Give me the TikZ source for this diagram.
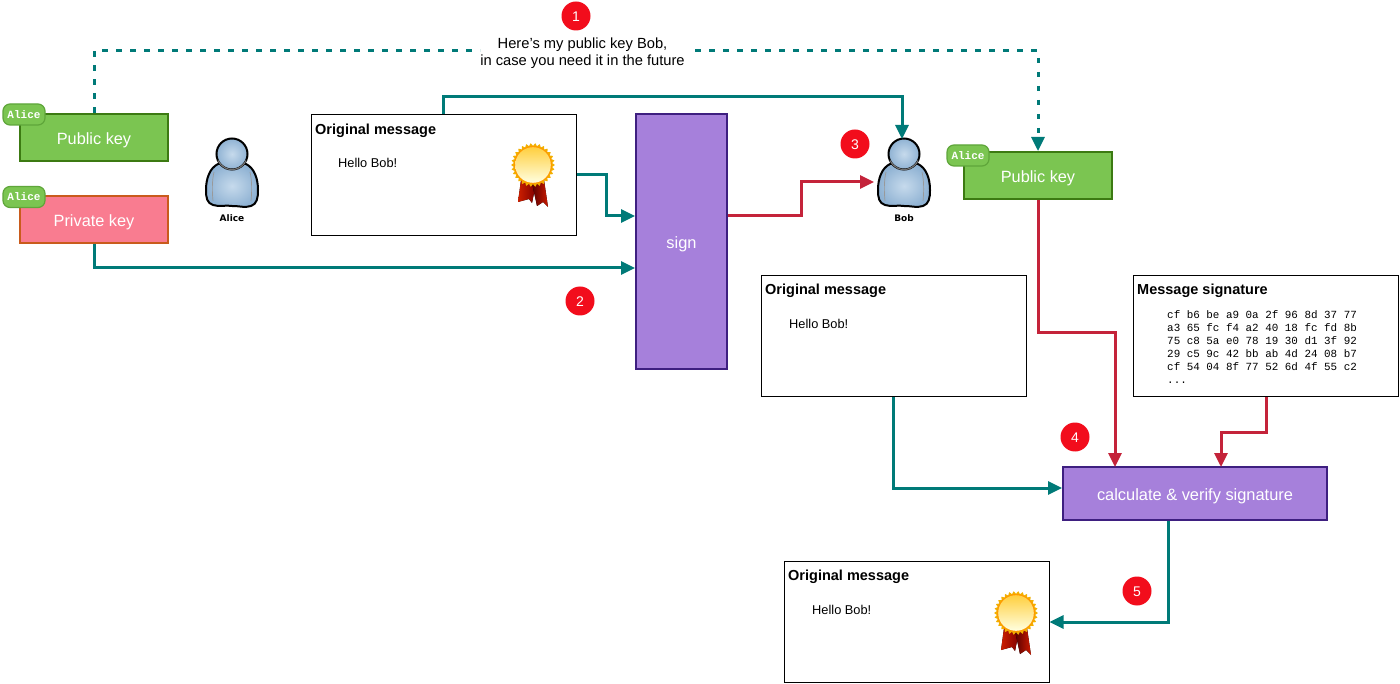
\documentclass[tikz,border=0pt]{standalone}
\usepackage{fontspec}
\setmainfont{Liberation Sans}
\setmonofont{Liberation Mono}
\newfontfamily\labelfont{DejaVu Sans}
\usetikzlibrary{arrows.meta,calc}
\definecolor{tealc}{HTML}{007A78}
\definecolor{redc}{HTML}{C4233A}
\definecolor{greenf}{HTML}{7BC551}
\definecolor{greenb}{HTML}{3C7A12}
\definecolor{pinkf}{HTML}{F97C90}
\definecolor{pinkb}{HTML}{C95B1C}
\definecolor{purplef}{HTML}{A680DB}
\definecolor{purpleb}{HTML}{3E1F80}
\definecolor{badgeb}{HTML}{5FA63A}
\definecolor{dotred}{HTML}{F20D1C}
\definecolor{whoin}{HTML}{C6DAEC}
\definecolor{whoout}{HTML}{8FB2D3}
\tikzset{
  keybox/.style={draw=greenb,fill=greenf,line width=2pt,minimum width=148pt,minimum height=47pt,inner sep=0pt,text=white,text height=14pt,text depth=0pt,font=\fontsize{16.3}{18}\selectfont},
  privbox/.style={keybox,draw=pinkb,fill=pinkf},
  badge/.style={draw=badgeb,fill=greenf,line width=1.2pt,rounded corners=7pt,minimum width=42pt,minimum height=21pt,inner sep=0pt,text=white,font=\fontsize{11}{12}\selectfont\ttfamily\bfseries},
  msgbox/.style={draw=black,fill=white,line width=1pt,minimum width=265pt,minimum height=121pt,inner sep=0pt},
  msgtitle/.style={anchor=west,inner sep=0pt,font=\fontsize{14.5}{17}\selectfont\bfseries},
  msgbody/.style={anchor=west,inner sep=0pt,font=\fontsize{12.8}{15}\selectfont},
  procbox/.style={draw=purpleb,fill=purplef,line width=2pt,inner sep=0pt,text=white,text height=14pt,text depth=0pt,font=\fontsize{16.4}{18}\selectfont},
  stepdot/.style={circle,fill=dotred,minimum size=29pt,inner sep=0pt,text=white,text height=11pt,text depth=0pt,font=\fontsize{14}{16}\selectfont},
  tipped/.style={-{Triangle[length=14pt,width=13pt]}},
  tealline/.style={draw=tealc,line width=3pt,tipped},
  redline/.style={draw=redc,line width=3pt,tipped},
  dotline/.style={draw=tealc,line width=3pt,dash pattern=on 5.5pt off 8.5pt},
  whoname/.style={inner sep=0pt,font=\fontsize{9}{10}\selectfont\labelfont\bfseries},
  who/.pic={
    \path[draw=black,line width=2pt,inner color=whoin,outer color=whoout]
      (-14,-42) .. controls (-22,-38) and (-26,-28) .. (-26,-16)
      .. controls (-26,-8) and (-25,-3) .. (-19,-1)
      .. controls (-12,1) and (-9,-1) .. (0,0)
      .. controls (9,0) and (12,2) .. (19,0)
      .. controls (25,-2) and (26,-8) .. (26,-16)
      .. controls (26,-28) and (22,-38) .. (14,-42) -- cycle;
    \draw[black!40,line width=.7pt] (-18,-34) .. controls (-20,-26) and (-20,-14) .. (-19,-5);
    \draw[black!40,line width=.7pt] (18,-34) .. controls (20,-26) and (20,-14) .. (19,-5);
    \path[draw=black,line width=2pt,inner color=whoin,outer color=whoout]
      (0,-52) circle[radius=15.5];
    \draw[black!55,line width=1.2pt] (0,-52)+(25:15.5) arc[start angle=25,end angle=155,radius=15.5];
  },
  medal/.pic={
    \fill[left color=red!70!orange!80!black,right color=red!50!black]
      (-12,15) -- (-15,37) -- (-4,34) -- (-1,38) -- (3,18) -- cycle;
    \fill[left color=red!35!black,right color=red!75!orange!80!black]
      (-1,18) -- (4,41) -- (10,37) -- (15,42) -- (11,15) -- cycle;
    \fill[orange!55!yellow!95!black] plot[domain=0:360,samples=121,smooth cycle] (\x:{20.5+1.4*cos(30*\x)});
    \fill[orange!80!yellow] (0,0) circle[radius=19];
    \shade[top color=orange!50!yellow!75!white,bottom color=yellow!12!white] (0,0) circle[radius=17.8];
  },
}
\begin{document}
\begin{tikzpicture}[x=1pt,y=-1pt]
\useasboundingbox[fill=white] (0,0) rectangle (1400,684);

% keys
\node[keybox] (pubA) at (94,137.5) {Public key};
\node[privbox] (privA) at (94,219.5) {Private key};
\node[keybox] (pubB) at (1038,175.5) {Public key};
\node[badge] (badgeA) at (24,114.5) {Alice};
\node[badge] (badgeP) at (24,197) {Alice};
\node[badge] (badgeB) at (968,155.5) {Alice};

% people
\pic at (232,206) {who};
\pic at (904,206) {who};
\node[whoname] (nameA) at (232,218.5) {Alice};
\node[whoname] (nameB) at (904,218.5) {Bob};
\coordinate (bobtop) at (902,139);
\coordinate (bobside) at (874,182);

% messages
\node[msgbox] (msgA) at (443.5,175) {};
\node[msgtitle] (msgAt) at (315,131) {Original message};
\node[msgbody] (msgAb) at (338,162.5) {Hello Bob!};
\pic at (533,165) {medal};

\node[msgbox] (msgB) at (893.75,336) {};
\node[msgtitle] (msgBt) at (765,291) {Original message};
\node[msgbody] (msgBb) at (789,323.5) {Hello Bob!};

\node[msgbox] (msgC) at (916.5,622) {};
\node[msgtitle] (msgCt) at (788,577) {Original message};
\node[msgbody] (msgCb) at (812,609.5) {Hello Bob!};
\pic at (1016,613) {medal};

\node[msgbox] (sigbox) at (1265.5,336) {};
\node[msgtitle] (sigt) at (1137,291) {Message signature};
\node[anchor=north west,inner sep=0pt,align=left,font=\fontsize{10.9}{13}\selectfont\ttfamily] (sigb) at (1167,310.5) {cf b6 be a9 0a 2f 96 8d 37 77\\a3 65 fc f4 a2 40 18 fc fd 8b\\75 c8 5a e0 78 19 30 d1 3f 92\\29 c5 9c 42 bb ab 4d 24 08 b7\\cf 54 04 8f 77 52 6d 4f 55 c2\\...};

% processes
\node[procbox,minimum width=91pt,minimum height=255pt] (sign) at (681.5,241.5) {sign};
\node[procbox,minimum width=264pt,minimum height=53pt] (calc) at (1195,493.5) {calculate \& verify signature};

% callout
\node[inner sep=0pt,minimum width=205pt,align=center,font=\fontsize{14.7}{17}\selectfont] (note) at (582.5,53.5) {Here’s my public key Bob,\\in case you need it in the future};
\coordinate (noteR) at (695,51);
\coordinate (noteL) at (480,51);

% connectors
\draw[dotline] (pubA.north) |- (noteL);
\draw[dotline,tipped] (noteR) -| (pubB.north);
\draw[tealline] (msgA.north -| 443,0) |- (bobtop |- 0,97) -- (bobtop);
\draw[tealline] (msgA.east) -- (606,175) |- (sign.west |- 0,216);
\draw[tealline] (privA.south) |- (sign.west |- 0,268);
\draw[redline] (sign.east |- 0,216) -- (801,216) |- (bobside);
\draw[redline] (pubB.south) |- (1115,333) -- (1115,467);
\draw[redline] (sigbox.south -| 1266,0) |- (1221,432) -- (1221,467);
\draw[tealline] (msgB.south -| 893,0) |- (calc.west |- 0,488);
\draw[tealline] (calc.south -| 1168,0) |- (msgC.east);

% steps
\node[stepdot] (s1) at (576,16) {1};
\node[stepdot] (s2) at (580,301) {2};
\node[stepdot] (s3) at (855,144) {3};
\node[stepdot] (s4) at (1075,437) {4};
\node[stepdot] (s5) at (1137,591) {5};
\end{tikzpicture}
\end{document}
